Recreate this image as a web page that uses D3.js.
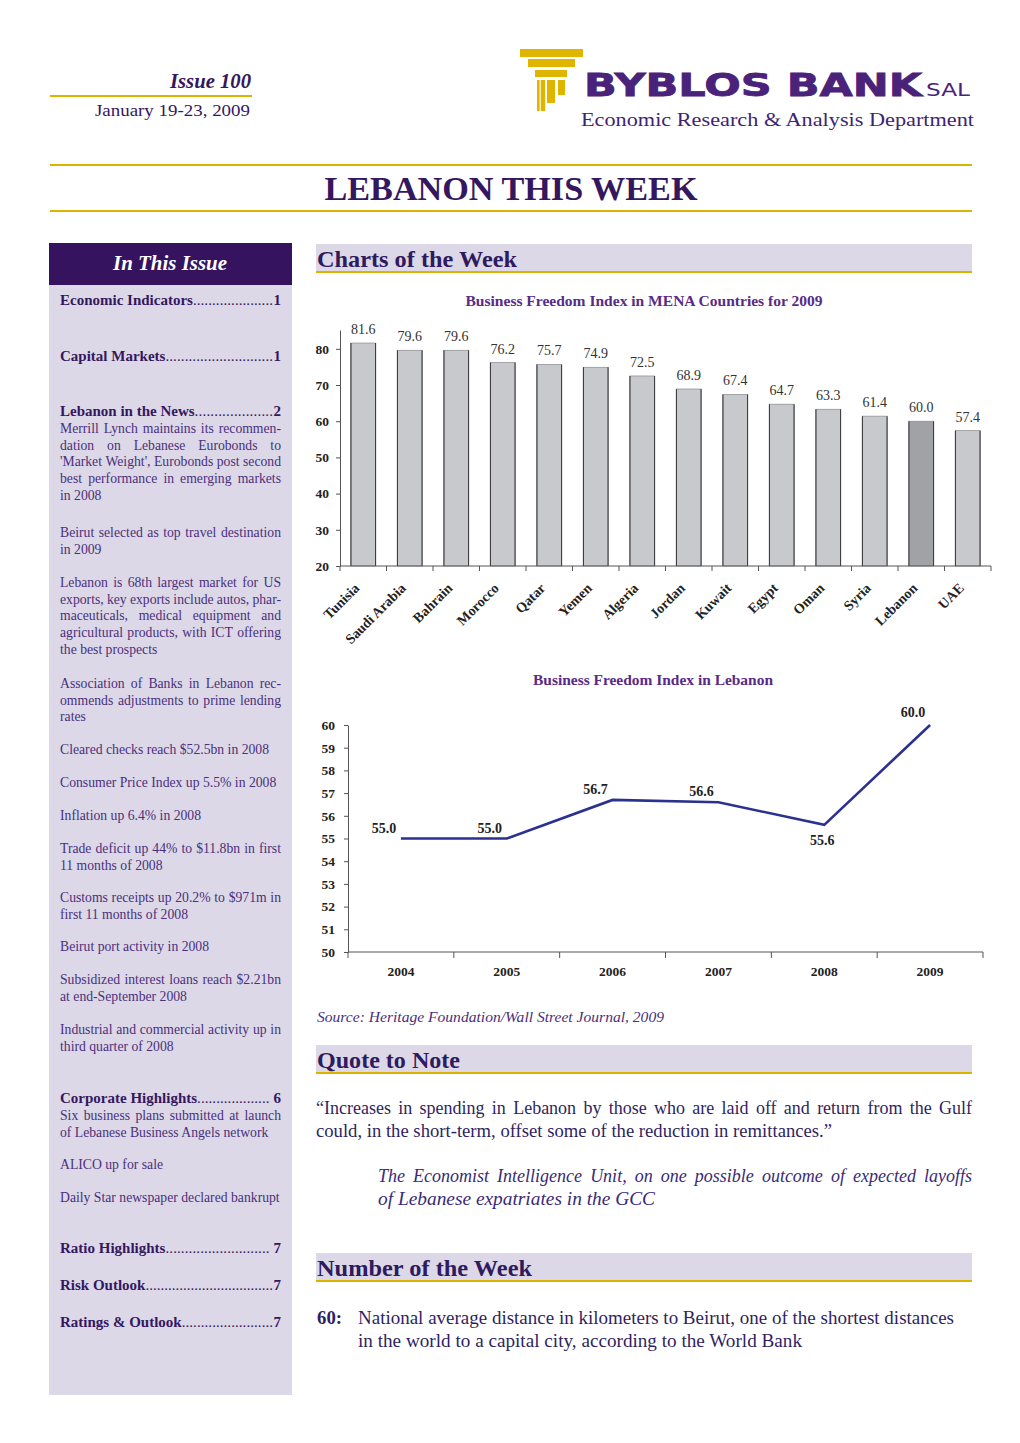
<!DOCTYPE html>
<html><head><meta charset="utf-8">
<script src="https://cdn.jsdelivr.net/npm/d3@7"></script>
<style>body{margin:0;background:#fff}svg{display:block}</style>
</head><body>
<svg id="page" width="1020" height="1443"></svg>
<script>
// ---------- DATA ----------
const countries = ["Tunisia","Saudi Arabia","Bahrain","Morocco","Qatar","Yemen","Algeria","Jordan","Kuwait","Egypt","Oman","Syria","Lebanon","UAE"];
const freedomIndex2009 = [81.6,79.6,79.6,76.2,75.7,74.9,72.5,68.9,67.4,64.7,63.3,61.4,60.0,57.4];
const highlightCountry = "Lebanon";
const barTicks = [20,30,40,50,60,70,80];

const years = ["2004","2005","2006","2007","2008","2009"];
const lebanonIndex = [55.0,55.0,56.7,56.6,55.6,60.0];
const lineTicks = [50,51,52,53,54,55,56,57,58,59,60];

const barTitle = "Business Freedom Index in MENA Countries for 2009";
const lineTitle = "Business Freedom Index in Lebanon";

// ---------- SETUP ----------
const svg = d3.select("#page");
const SERIF = '"Liberation Serif", "Times New Roman", serif';
const SANS = '"DejaVu Sans", sans-serif';
const PURPLE = "#35175f", TXT = "#4a2f7c", GOLD = "#dcb300", LAV = "#dcd8e7";
svg.attr("font-family", SERIF);
svg.append("rect").attr("width",1020).attr("height",1443).attr("fill","#fff");

function text(g, x, y, s, o = {}) {
  const t = g.append("text").attr("x", x).attr("y", y).attr("font-family", SERIF).text(s);
  for (const k in o) t.attr(k, o[k]);
  return t;
}
const measurer = svg.append("text").attr("x",-999).attr("y",-999).attr("font-family", SERIF);
function wordWidth(w, o) {
  measurer.attr("font-weight","normal").attr("font-style","normal");
  for (const k in o) measurer.attr(k, o[k]);
  measurer.text(w);
  return measurer.node().getComputedTextLength();
}
function justify(g, x0, x1, y, line, o = {}) {
  const words = line.split(" ");
  const ws = words.map(w => wordWidth(w, o));
  const tot = d3.sum(ws);
  const gap = words.length > 1 ? (x1 - x0 - tot) / (words.length - 1) : 0;
  const t = g.append("text").attr("y", y).attr("font-family", SERIF);
  for (const k in o) t.attr(k, o[k]);
  let x = x0;
  words.forEach((w, i) => { t.append("tspan").attr("x", x).text(w); x += ws[i] + gap; });
  return t;
}

// ---------- HEADER ----------
const hd = svg.append("g");
text(hd, 251, 88, "Issue 100", {"text-anchor":"end","font-size":20,"font-weight":"bold","font-style":"italic",fill:PURPLE,textLength:81,lengthAdjust:"spacingAndGlyphs"});
hd.append("line").attr("x1",50).attr("x2",252).attr("y1",96).attr("y2",96).attr("stroke",GOLD).attr("stroke-width",2);
text(hd, 250, 116, "January 19-23, 2009", {"text-anchor":"end","font-size":17,fill:PURPLE,textLength:155,lengthAdjust:"spacingAndGlyphs"});
// logo
const logoBars = [[520,49,63,8],[528,59,47,8],[535,70,32,7],[537,80,2.6,31],[540.7,80,4.5,31],[547,80,8,23],[558,80,7,15]];
logoBars.forEach(b => hd.append("rect").attr("x",b[0]).attr("y",b[1]).attr("width",b[2]).attr("height",b[3]).attr("fill","#e0b500"));
text(hd, 584, 96, "BYBLOS BANK", {"font-family":SANS,"font-weight":"bold","font-size":32,fill:"#4a2279",textLength:338,lengthAdjust:"spacingAndGlyphs","stroke":"#4a2279","stroke-width":0.8});
text(hd, 926, 96, "SAL", {"font-family":SANS,"font-size":17,fill:"#4a2279",textLength:44,lengthAdjust:"spacingAndGlyphs"});
text(hd, 581, 126, "Economic Research & Analysis Department", {"font-size":19.5,fill:"#3f2472",textLength:393,lengthAdjust:"spacingAndGlyphs"});

hd.append("line").attr("x1",50).attr("x2",972).attr("y1",165).attr("y2",165).attr("stroke",GOLD).attr("stroke-width",2);
hd.append("line").attr("x1",50).attr("x2",972).attr("y1",211).attr("y2",211).attr("stroke",GOLD).attr("stroke-width",2);
text(hd, 511, 200, "LEBANON THIS WEEK", {"text-anchor":"middle","font-size":34,"font-weight":"bold",fill:PURPLE,textLength:373,lengthAdjust:"spacingAndGlyphs"});

// ---------- SIDEBAR ----------
const sb = svg.append("g");
sb.append("rect").attr("x",49).attr("y",243).attr("width",243).attr("height",1152).attr("fill",LAV);
sb.append("rect").attr("x",49).attr("y",243).attr("width",243).attr("height",42).attr("fill","#35135f");
text(sb, 170, 270, "In This Issue", {"text-anchor":"middle","font-size":20,"font-weight":"bold","font-style":"italic",fill:"#fff",textLength:114,lengthAdjust:"spacingAndGlyphs"});

function toc(y, heading, num, spaced) {
  const o = {"font-size":15,"font-weight":"bold",fill:PURPLE};
  const h = text(sb, 60, y, heading, o);
  const hw = h.node().getComputedTextLength();
  const n = text(sb, 281, y, num, Object.assign({"text-anchor":"end"}, o));
  const nw = n.node().getComputedTextLength();
  const start = 60 + hw, end = 281 - nw - (spaced ? 4 : 0.5);
  const dw = wordWidth(".", {"font-size":15});
  const cnt = Math.max(1, Math.floor((end - start) / dw));
  text(sb, start, y, ".".repeat(cnt), {"font-size":15,fill:PURPLE,textLength:end-start,lengthAdjust:"spacing"});
}
function para(y, lines) {
  const o = {"font-size":13.7,fill:TXT};
  lines.forEach((l, i) => {
    const yy = y + i * 16.7;
    if (i < lines.length - 1) justify(sb, 60, 281, yy, l, o);
    else text(sb, 60, yy, l, o);
  });
}
toc(305, "Economic Indicators", "1");
toc(361, "Capital Markets", "1");
toc(416, "Lebanon in the News", "2");
para(433, ["Merrill Lynch maintains its recommen-","dation on Lebanese Eurobonds to","'Market Weight', Eurobonds post second","best performance in emerging markets","in 2008"]);
para(537, ["Beirut selected as top travel destination","in 2009"]);
para(587, ["Lebanon is 68th largest market for US","exports, key exports include autos, phar-","maceuticals, medical equipment and","agricultural products, with ICT offering","the best prospects"]);
para(688, ["Association of Banks in Lebanon rec-","ommends adjustments to prime lending","rates"]);
para(754, ["Cleared checks reach $52.5bn in 2008"]);
para(787, ["Consumer Price Index up 5.5% in 2008"]);
para(820, ["Inflation up 6.4% in 2008"]);
para(853, ["Trade deficit up 44% to $11.8bn in first","11 months of 2008"]);
para(902, ["Customs receipts up 20.2% to $971m in","first 11 months of 2008"]);
para(951, ["Beirut port activity in 2008"]);
para(984, ["Subsidized interest loans reach $2.21bn","at end-September 2008"]);
para(1034, ["Industrial and commercial activity up in","third quarter of 2008"]);
toc(1103, "Corporate Highlights", "6", true);
para(1120, ["Six business plans submitted at launch","of Lebanese Business Angels network"]);
para(1169, ["ALICO up for sale"]);
para(1202, ["Daily Star newspaper declared bankrupt"]);
toc(1253, "Ratio Highlights", "7", true);
toc(1290, "Risk Outlook", "7");
toc(1327, "Ratings & Outlook", "7");

// ---------- SECTION HEADERS ----------
function section(y0, label, w) {
  const g = svg.append("g");
  g.append("rect").attr("x",316).attr("y",y0).attr("width",656).attr("height",27).attr("fill",LAV);
  g.append("line").attr("x1",316).attr("x2",972).attr("y1",y0+28).attr("y2",y0+28).attr("stroke",GOLD).attr("stroke-width",2);
  text(g, 317, y0+23, label, {"font-size":23.5,"font-weight":"bold",fill:"#2f1a5e",textLength:w,lengthAdjust:"spacingAndGlyphs"});
}
section(244, "Charts of the Week", 200);
section(1045, "Quote to Note", 143);
section(1253, "Number of the Week", 215);

// ---------- BAR CHART ----------
const bc = svg.append("g");
text(bc, 644, 306, barTitle, {"text-anchor":"middle","font-size":14,"font-weight":"bold",fill:"#5a2a88",textLength:357,lengthAdjust:"spacingAndGlyphs"});
const xB = d3.scaleBand().domain(countries).range([340,991]).paddingInner(0.47).paddingOuter(0.235);
const yB = d3.scaleLinear().domain([20,85.2]).range([566,330]);
bc.selectAll("rect.bar").data(countries).join("rect").attr("class","bar")
  .attr("x", d => xB(d)).attr("width", xB.bandwidth())
  .attr("y", (d,i) => yB(freedomIndex2009[i])).attr("height", (d,i) => yB(20) - yB(freedomIndex2009[i]))
  .attr("fill", d => d === highlightCountry ? "#a1a2a6" : "#c8c9cd")
  .attr("stroke", "#8a8a8e").attr("stroke-width", 0.7);
// darker side edges
bc.selectAll("path.edge").data(countries).join("path").attr("class","edge")
  .attr("d", (d,i) => {
    const x0 = xB(d), x1 = xB(d) + xB.bandwidth(), y0 = yB(freedomIndex2009[i]), y1 = yB(20);
    return `M${x0},${y1}V${y0}M${x1},${y0}V${y1}`;
  })
  .attr("stroke","#3e3e42").attr("stroke-width",1.1).attr("fill","none");
bc.selectAll("text.val").data(countries).join("text").attr("class","val")
  .attr("font-family", SERIF)
  .attr("x", d => xB(d) + xB.bandwidth()/2).attr("y", (d,i) => yB(freedomIndex2009[i]) - 9)
  .attr("text-anchor","middle").attr("font-size",14).attr("fill","#333")
  .text((d,i) => freedomIndex2009[i].toFixed(1));
const yAxB = bc.append("g").attr("transform","translate(340,0)")
  .call(d3.axisLeft(yB).tickValues(barTicks).tickSize(4).tickSizeOuter(0).tickPadding(7));
yAxB.selectAll("text").attr("font-family",SERIF).attr("font-size",13.5).attr("font-weight","bold").attr("fill","#222");
yAxB.selectAll("line,path").attr("stroke","#555");
const boff = (xB.step() - xB.bandwidth())/2;
const bBounds = countries.map(c => xB(c) - boff).concat([991]);
bc.append("line").attr("x1",340).attr("x2",991).attr("y1",566).attr("y2",566).attr("stroke","#555");
bc.selectAll("line.bt").data(bBounds).join("line").attr("class","bt")
  .attr("x1",d=>d).attr("x2",d=>d).attr("y1",566).attr("y2",571).attr("stroke","#555");
bc.selectAll("text.cat").data(countries).join("text").attr("class","cat")
  .attr("font-family", SERIF)
  .attr("transform", d => `translate(${xB(d) + xB.bandwidth()/2 - 3},589) rotate(-45)`)
  .attr("text-anchor","end").attr("font-size",14).attr("font-weight","bold").attr("fill","#222")
  .text(d => d);

// ---------- LINE CHART ----------
const lc = svg.append("g");
text(lc, 653, 685, lineTitle, {"text-anchor":"middle","font-size":14,"font-weight":"bold",fill:"#5a2a88",textLength:240,lengthAdjust:"spacingAndGlyphs"});
const xL = d3.scalePoint().domain(years).range([348,983]).padding(0.5);
const yL = d3.scaleLinear().domain([50,60]).range([952,725]);
const yAxL = lc.append("g").attr("transform","translate(348,0)")
  .call(d3.axisLeft(yL).tickValues(lineTicks).tickSize(4).tickSizeOuter(0).tickPadding(9));
yAxL.selectAll("text").attr("font-family",SERIF).attr("font-size",13.5).attr("font-weight","bold").attr("fill","#222");
yAxL.selectAll("line,path").attr("stroke","#555");
lc.append("line").attr("x1",348).attr("x2",983).attr("y1",952).attr("y2",952).attr("stroke","#555");
const lstep = xL.step();
const lBounds = d3.range(years.length + 1).map(i => xL(years[0]) - lstep/2 + i*lstep);
lc.selectAll("line.lt").data(lBounds).join("line").attr("class","lt")
  .attr("x1",d=>d).attr("x2",d=>d).attr("y1",952).attr("y2",958).attr("stroke","#555");
lc.selectAll("text.yr").data(years).join("text").attr("class","yr")
  .attr("font-family", SERIF)
  .attr("x", d => xL(d)).attr("y", 976).attr("text-anchor","middle")
  .attr("font-size",13.5).attr("font-weight","bold").attr("fill","#222").text(d => d);
const line = d3.line().x((d,i) => xL(years[i])).y(d => yL(d));
lc.append("path").datum(lebanonIndex).attr("d", line).attr("fill","none")
  .attr("stroke","#2b3190").attr("stroke-width",2.6).attr("stroke-linejoin","miter");
lc.selectAll("text.lv").data(lebanonIndex).join("text").attr("class","lv")
  .attr("font-family", SERIF)
  .each(function(d,i){
    const isMin = i > 0 && i < lebanonIndex.length-1 && d < lebanonIndex[i-1] && d < lebanonIndex[i+1];
    const isLast = i === lebanonIndex.length - 1;
    d3.select(this).attr("x", xL(years[i]) + (isMin ? -2 : -17))
      .attr("y", yL(d) + (isMin ? 20 : (isLast ? -8 : -6)));
  })
  .attr("text-anchor","middle").attr("font-size",14).attr("font-weight","bold").attr("fill","#222")
  .text(d => d.toFixed(1));

// ---------- SOURCE / QUOTE / NUMBER ----------
const tx = svg.append("g");
text(tx, 317, 1022, "Source: Heritage Foundation/Wall Street Journal, 2009", {"font-size":14,"font-style":"italic",fill:"#4a2f7c",textLength:347,lengthAdjust:"spacingAndGlyphs"});
const qo = {"font-size":18,fill:"#2f1f62"};
justify(tx, 316, 972, 1114, "\u201CIncreases in spending in Lebanon by those who are laid off and return from the Gulf", qo);
text(tx, 316, 1137, "could, in the short-term, offset some of the reduction in remittances.\u201D", Object.assign({textLength:516,lengthAdjust:"spacingAndGlyphs"}, qo));
const ao = {"font-size":18,"font-style":"italic",fill:"#3a2a78"};
justify(tx, 378, 972, 1182, "The Economist Intelligence Unit, on one possible outcome of expected layoffs", ao);
text(tx, 378, 1205, "of  Lebanese expatriates in the GCC", Object.assign({textLength:277,lengthAdjust:"spacingAndGlyphs"}, ao));
text(tx, 317, 1324, "60:", {"font-size":18,"font-weight":"bold",fill:"#2f1f62",textLength:25,lengthAdjust:"spacingAndGlyphs"});
text(tx, 358, 1324, "National average distance in kilometers to Beirut, one of the shortest distances", Object.assign({textLength:596,lengthAdjust:"spacingAndGlyphs"}, qo));
text(tx, 358, 1347, "in the world to a capital city, according to the World Bank", Object.assign({textLength:444,lengthAdjust:"spacingAndGlyphs"}, qo));
measurer.remove();
</script>
</body></html>
